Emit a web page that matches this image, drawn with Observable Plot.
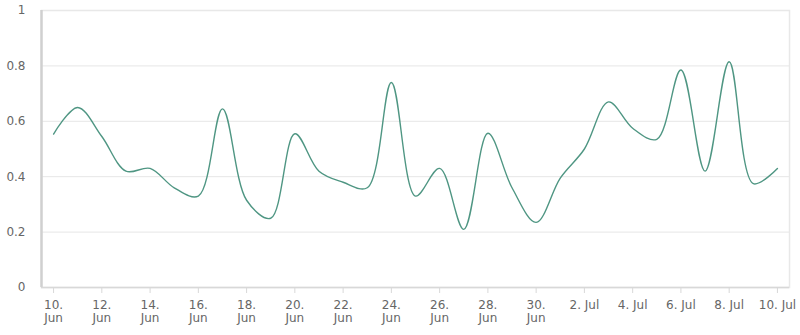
<!DOCTYPE html>
<html>
<head>
<meta charset="utf-8">
<script src="https://cdn.jsdelivr.net/npm/d3@7"></script>
<script src="https://cdn.jsdelivr.net/npm/@observablehq/plot@0.6"></script>
<style>
  html, body { margin: 0; padding: 0; background: #fff; }
  #chart { width: 800px; height: 335px; }
</style>
</head>
<body>
<div id="chart"></div>
<script>
const dates = [
  "2023-06-10","2023-06-11","2023-06-12","2023-06-13","2023-06-14","2023-06-15",
  "2023-06-16","2023-06-17","2023-06-18","2023-06-19","2023-06-20","2023-06-21",
  "2023-06-22","2023-06-23","2023-06-24","2023-06-25","2023-06-26","2023-06-27",
  "2023-06-28","2023-06-29","2023-06-30","2023-07-01","2023-07-02","2023-07-03",
  "2023-07-04","2023-07-05","2023-07-06","2023-07-07","2023-07-08","2023-07-09",
  "2023-07-10"
];
const values = [
  0.554, 0.65, 0.545, 0.42, 0.43, 0.36,
  0.33, 0.645, 0.315, 0.25, 0.555, 0.42,
  0.38, 0.36, 0.74, 0.33, 0.43, 0.21,
  0.557, 0.36, 0.235, 0.395, 0.5, 0.67,
  0.575, 0.535, 0.785, 0.42, 0.815, 0.375,
  0.43
];
const xTickDates = [
  "2023-06-10","2023-06-12","2023-06-14","2023-06-16","2023-06-18","2023-06-20",
  "2023-06-22","2023-06-24","2023-06-26","2023-06-28","2023-06-30","2023-07-02",
  "2023-07-04","2023-07-06","2023-07-08","2023-07-10"
];
const xTickLabels = [
  "10.\nJun","12.\nJun","14.\nJun","16.\nJun","18.\nJun","20.\nJun",
  "22.\nJun","24.\nJun","26.\nJun","28.\nJun","30.\nJun","2. Jul",
  "4. Jul","6. Jul","8. Jul","10. Jul"
];
const yTicks = [0, 0.2, 0.4, 0.6, 0.8, 1];
const yTickLabels = ["0", "0.2", "0.4", "0.6", "0.8", "1"];

const data = dates.map((d, i) => ({date: new Date(d), value: values[i]}));
const xTicks = xTickDates.map(d => new Date(d));
const labelOf = new Map(xTicks.map((d, i) => [+d, xTickLabels[i]]));
const yLabelOf = new Map(yTicks.map((v, i) => [v, yTickLabels[i]]));

const halfDay = 12 * 3600 * 1000;
const chart = Plot.plot({
  width: 800,
  height: 335,
  marginLeft: 41,
  marginRight: 11,
  marginTop: 10,
  marginBottom: 48,
  style: {fontFamily: "DejaVu Sans", fontSize: "12px", color: "#666", background: "#fff"},
  x: {type: "utc", domain: [new Date(+xTicks[0] - halfDay), new Date(+xTicks[xTicks.length - 1] + halfDay)]},
  y: {domain: [0, 1]},
  marks: [
    Plot.ruleY(yTicks.filter(v => v > 0 && v < 1), {stroke: "#e6e6e6", strokeWidth: 1}),
    Plot.frame({stroke: "#e8e8e8", strokeWidth: 1.5}),
    Plot.ruleX([0], {x: () => +xTicks[0] - halfDay, stroke: "#d0d0d0", strokeWidth: 2.5}),
    Plot.ruleY([0], {stroke: "#d8d8d8", strokeWidth: 1.5}),
    Plot.line(data, {x: "date", y: "value", curve: "catmull-rom", stroke: "#4f9683", strokeWidth: 1.4}),
    Plot.axisX(xTicks, {
      tickSize: 6, tickPadding: 6, stroke: "#d8d8d8",
      tickFormat: d => labelOf.get(+d), fill: "#666", fontSize: 12, lineHeight: 1.1, label: null
    }),
    Plot.axisY(yTicks, {
      tickSize: 0, tickPadding: 16, tickFormat: v => yLabelOf.get(v), fill: "#666", fontSize: 12, label: null
    })
  ]
});
document.getElementById("chart").appendChild(chart);
</script>
</body>
</html>
